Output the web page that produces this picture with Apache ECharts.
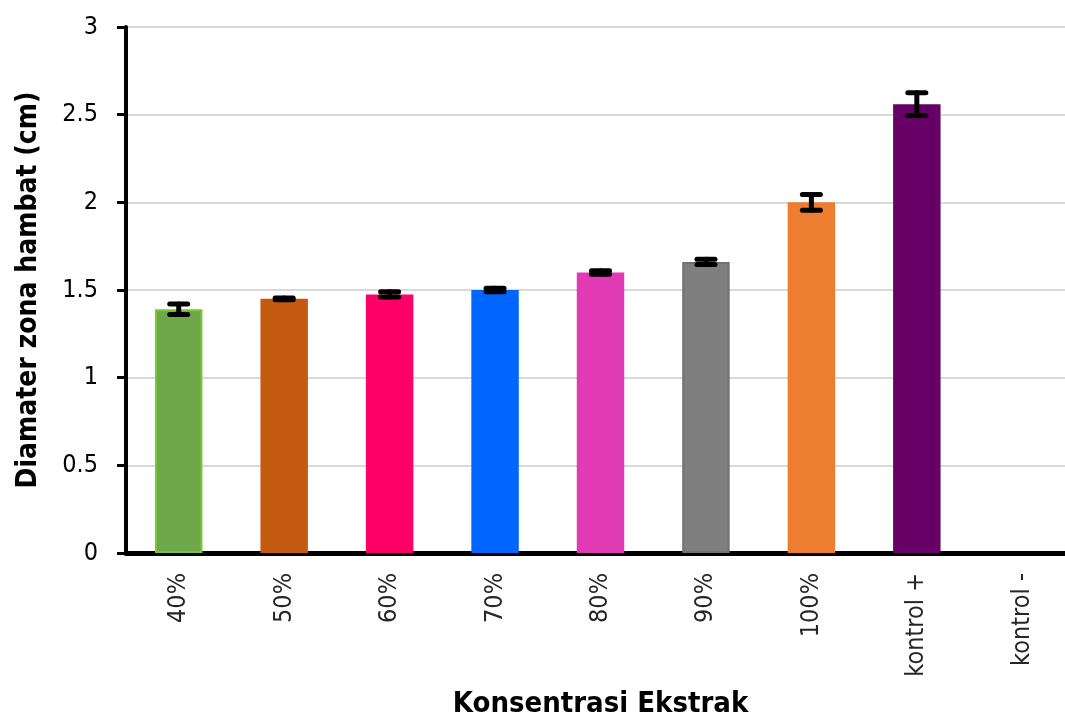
<!DOCTYPE html>
<html>
<head>
<meta charset="utf-8">
<script src="https://cdn.jsdelivr.net/npm/echarts@6/dist/echarts.min.js"></script>
<style>
  html, body { margin: 0; padding: 0; background: #fff; overflow: hidden; }
  #chart { width: 1075px; height: 726px; }
</style>
</head>
<body>
<div id="chart"></div>
<script>
// data
const categories = ['40%', '50%', '60%', '70%', '80%', '90%', '100%', 'kontrol +', 'kontrol -'];
const diameters = [1.39, 1.45, 1.475, 1.50, 1.60, 1.66, 2.00, 2.56, 0];
const errors = [0.03, 0.005, 0.015, 0.01, 0.01, 0.015, 0.045, 0.065, 0];
const yTicks = [0, 0.5, 1, 1.5, 2, 2.5, 3];

// bar colours (fill, border)
const fills = ['#6fa84a', '#c55a11', '#ff0066', '#0066ff', '#e03bb4', '#7f7f7f', '#ed7d31', '#660066', 'transparent'];
const borders = ['#78c832', '#c55a11', '#ff0066', '#0066ff', '#e03bb4', '#737070', '#ed7d31', '#660066', 'transparent'];

const font = '"Liberation Sans Narrow", "Arial Narrow", "DejaVu Sans Condensed", "Liberation Sans", Arial, sans-serif';

// plot runs a little past the right edge of the window, as in the original
const chart = echarts.init(document.getElementById('chart'));

const barData = diameters.map((v, i) => ({
  value: v,
  itemStyle: { color: fills[i], borderColor: borders[i], borderWidth: v > 0 ? 2 : 0 }
}));

const errData = diameters.map((v, i) => [i, v - errors[i], v + errors[i]]);

const option = {
  backgroundColor: '#fff',
  animation: false,
  grid: { left: 126, right: 0, top: 27, bottom: 173 },
  xAxis: {
    type: 'category',
    data: categories,
    name: 'Konsentrasi Ekstrak',
    nameLocation: 'middle',
    nameGap: 137,
    nameTextStyle: { fontFamily: font, fontSize: 29, fontWeight: 'bold', color: '#000' },
    axisLine: { lineStyle: { color: '#000', width: 5 } },
    axisTick: { show: false },
    axisLabel: {
      rotate: 90,
      margin: 20,
      fontFamily: font,
      fontSize: 25,
      color: '#262626'
    }
  },
  yAxis: {
    type: 'value',
    min: 0,
    max: 3,
    interval: 0.5,
    name: 'Diamater zona hambat (cm)',
    nameLocation: 'middle',
    nameGap: 83,
    nameTextStyle: { fontFamily: font, fontSize: 28, fontWeight: 'bold', color: '#000' },
    axisLine: { show: true, lineStyle: { color: '#000', width: 4 } },
    axisTick: { show: true, length: 9, lineStyle: { color: '#000', width: 3 } },
    axisLabel: {
      margin: 28,
      fontFamily: font,
      fontSize: 25,
      color: '#000',
      formatter: v => yTicks.includes(v) ? String(v) : ''
    },
    splitLine: { lineStyle: { color: '#d9d9d9', width: 2 } }
  },
  series: [
    {
      type: 'bar',
      data: barData,
      barWidth: '45%'
    },
    {
      type: 'custom',
      data: errData,
      z: 10,
      renderItem: function (params, api) {
        if (api.value(2) - api.value(1) <= 0) return null;
        const x = api.coord([api.value(0), 0])[0];
        const lo = api.coord([api.value(0), api.value(1)])[1];
        const hi = api.coord([api.value(0), api.value(2)])[1];
        const half = 9;
        const style = { stroke: '#000', lineWidth: 5, lineCap: 'round' };
        return {
          type: 'group',
          children: [
            { type: 'line', shape: { x1: x, y1: hi, x2: x, y2: lo }, style: style },
            { type: 'line', shape: { x1: x - half, y1: hi, x2: x + half, y2: hi }, style: style },
            { type: 'line', shape: { x1: x - half, y1: lo, x2: x + half, y2: lo }, style: style }
          ]
        };
      }
    }
  ]
};

chart.setOption(option);
</script>
</body>
</html>
